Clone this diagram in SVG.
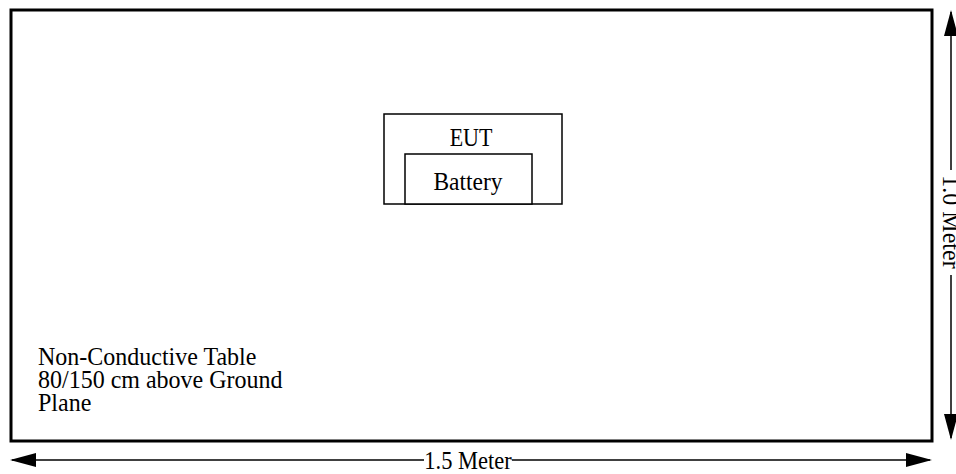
<svg xmlns="http://www.w3.org/2000/svg" width="956" height="474" viewBox="0 0 956 474">
<style>
text{font-family:"Liberation Serif","Times New Roman",serif;font-size:22px;fill:#000}
.big{font-size:24px}
.box{fill:#fff;stroke:#000;stroke-width:1.5}
.line{stroke:#000;stroke-width:1.5;fill:none}
</style>
<rect width="956" height="474" fill="#fff"/>
<g id="table">
<rect x="11" y="10" width="921" height="431" fill="#fff" stroke="#000" stroke-width="3"/>
<text class="big" transform="translate(38,365) scale(1,1.05)">Non-Conductive Table</text>
<text class="big" transform="translate(38,388) scale(1,1.05)">80/150 cm above Ground</text>
<text class="big" transform="translate(38,411) scale(1,1.05)">Plane</text>
</g>
<g id="eut">
<rect class="box" x="384" y="114" width="178" height="90"/>
<text transform="translate(471,146) scale(1,1.12)" text-anchor="middle">EUT</text>
</g>
<g id="battery">
<rect class="box" x="405" y="154" width="127" height="50"/>
<text transform="translate(468,190) scale(1,1.08)" text-anchor="middle" style="font-size:23.5px">Battery</text>
</g>
<g id="connectors">
<line x1="12" y1="460" x2="424" y2="460" class="line"/>
<line x1="512" y1="460" x2="930" y2="460" class="line"/>
<path d="M10,460 L36,453 L36,467 z" fill="#000"/>
<path d="M932,460 L906,453 L906,467 z" fill="#000"/>
<line x1="951" y1="12" x2="951" y2="170" class="line"/>
<line x1="951" y1="275" x2="951" y2="438" class="line"/>
<path d="M951,10 L944,36 L958,36 z" fill="#000"/>
<path d="M951,440 L944,414 L958,414 z" fill="#000"/>
</g>
<text transform="translate(468,469) scale(1,1.12)" text-anchor="middle" style="font-size:22.5px">1.5 Meter</text>
<text transform="translate(943,222) rotate(90) scale(1,1.05)" text-anchor="middle" class="big">1.0 Meter</text>
</svg>
